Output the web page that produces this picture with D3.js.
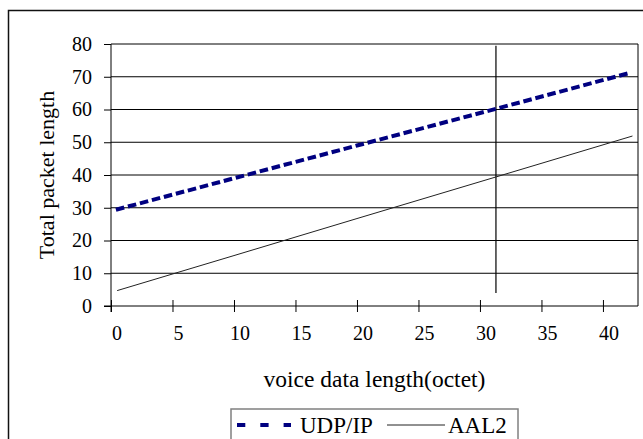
<!DOCTYPE html>
<html>
<head>
<meta charset="utf-8">
<script src="https://cdn.jsdelivr.net/npm/d3@7"></script>
<style>
  body { margin: 0; background: #fff; }
  svg { display: block; }
</style>
</head>
<body>
<svg id="chart" width="643" height="439"></svg>
<script>
(function () {
  'use strict';

  // values
  var xTicks = [0, 5, 10, 15, 20, 25, 30, 35, 40];
  var yTicks = [0, 10, 20, 30, 40, 50, 60, 70, 80];
  var udpX = [0.4, 10, 20, 31.3, 42.2];
  var udpY = [29.4, 39, 49, 60.2, 71.2];
  var aalX = [0.5, 10, 20, 31.3, 42.4];
  var aalY = [4.7, 15.4, 26.7, 39.4, 51.9];
  var markerX = [31.3, 31.3];
  var markerY = [4, 79.5];
  var seriesNames = ['UDP/IP', 'AAL2'];

  var serif = 'Liberation Serif, Times New Roman, serif';

  var svg = d3.select('#chart')
    .attr('font-family', serif);

  var x = d3.scaleLinear().domain([0, 42.85]).range([111, 638]);
  var y = d3.scaleLinear().domain([0, 80]).range([306, 44]);

  // outer frame
  svg.append('rect')
    .attr('x', 8.5).attr('y', 10.5)
    .attr('width', 660).attr('height', 460)
    .attr('fill', 'none')
    .attr('stroke', '#111')
    .attr('stroke-width', 1.5);

  // horizontal grid
  svg.append('g')
    .selectAll('line')
    .data(yTicks.slice(1))
    .enter()
    .append('line')
    .attr('x1', x(0)).attr('x2', x.range()[1])
    .attr('y1', function(d) { return y(d); })
    .attr('y2', function(d) { return y(d); })
    .attr('stroke', '#000')
    .attr('stroke-width', 1);

  // right border of plot area
  svg.append('line')
    .attr('x1', x.range()[1]).attr('x2', x.range()[1])
    .attr('y1', y(80)).attr('y2', y(0))
    .attr('stroke', '#000');

  // y axis
  var yAxis = svg.append('g')
    .attr('transform', 'translate(' + x(0) + ',0)')
    .call(d3.axisLeft(y).tickValues(yTicks).tickSize(7).tickPadding(12));
  yAxis.attr('font-family', serif).attr('font-size', 20);
  yAxis.select('.domain').attr('d', 'M0,' + y(80) + 'V' + (y(0) + 6));
  yAxis.selectAll('line').attr('stroke', '#000');

  // x axis, ticks cross the line
  var xAxis = svg.append('g')
    .attr('transform', 'translate(0,' + y(0) + ')')
    .call(d3.axisBottom(x).tickValues(xTicks).tickSize(6).tickPadding(14));
  xAxis.attr('font-family', serif).attr('font-size', 20);
  xAxis.select('.domain').attr('d', 'M' + (x(0) - 7) + ',0H' + x.range()[1]);
  xAxis.selectAll('.tick line').attr('y1', -6).attr('y2', 6).attr('stroke', '#000');
  xAxis.selectAll('text').attr('dx', 5.5);
  svg.selectAll('.domain').attr('stroke', '#000');

  // vertical marker line
  svg.append('line')
    .attr('x1', x(markerX[0])).attr('x2', x(markerX[1]))
    .attr('y1', y(markerY[0])).attr('y2', y(markerY[1]))
    .attr('stroke', '#000')
    .attr('stroke-width', 1.2);

  var line = d3.line()
    .x(function(d) { return x(d[0]); })
    .y(function(d) { return y(d[1]); });

  svg.append('path')
    .datum(d3.zip(aalX, aalY))
    .attr('d', line)
    .attr('fill', 'none')
    .attr('stroke', '#222')
    .attr('stroke-width', 1);

  svg.append('path')
    .datum(d3.zip(udpX, udpY))
    .attr('d', line)
    .attr('fill', 'none')
    .attr('stroke', '#000080')
    .attr('stroke-width', 4)
    .attr('stroke-dasharray', '8.6,3.8');

  // axis titles
  svg.append('text')
    .attr('x', 374.5).attr('y', 387)
    .attr('text-anchor', 'middle')
    .attr('font-size', 23.5)
    .text('voice data length(octet)');

  svg.append('text')
    .attr('transform', 'translate(54,175) rotate(-90)')
    .attr('text-anchor', 'middle')
    .attr('font-size', 22)
    .text('Total packet length');

  // legend
  var legend = svg.append('g');
  legend.append('rect')
    .attr('x', 231).attr('y', 409)
    .attr('width', 287).attr('height', 50)
    .attr('fill', '#fff')
    .attr('stroke', '#808080')
    .attr('stroke-width', 1.5);
  legend.append('line')
    .attr('x1', 237).attr('x2', 291)
    .attr('y1', 425).attr('y2', 425)
    .attr('stroke', '#000080')
    .attr('stroke-width', 4)
    .attr('stroke-dasharray', '8.3,15');
  legend.append('text')
    .attr('x', 300).attr('y', 433)
    .attr('font-size', 23)
    .text(seriesNames[0]);
  legend.append('line')
    .attr('x1', 387).attr('x2', 445)
    .attr('y1', 425).attr('y2', 425)
    .attr('stroke', '#222')
    .attr('stroke-width', 1);
  legend.append('text')
    .attr('x', 448).attr('y', 433)
    .attr('font-size', 23)
    .text(seriesNames[1]);
}());
</script>
</body>
</html>
